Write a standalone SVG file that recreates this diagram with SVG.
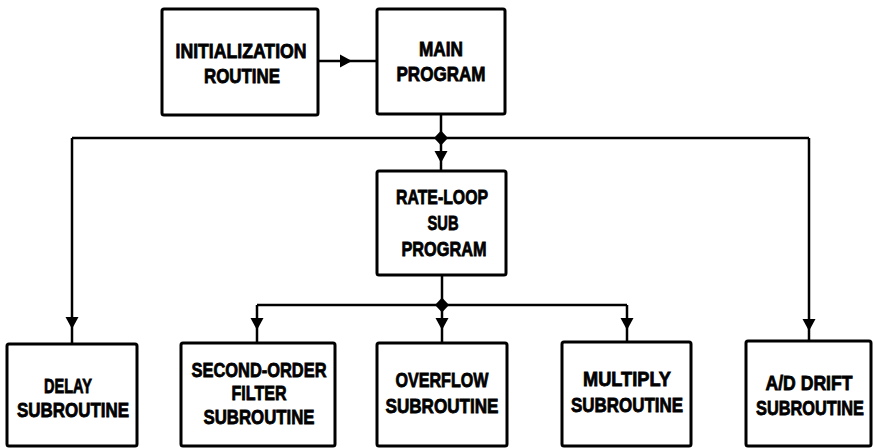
<svg xmlns="http://www.w3.org/2000/svg" xmlns:xlink="http://www.w3.org/1999/xlink" width="873" height="448" viewBox="0 0 873 448">
<style>
.box{fill:#fff;stroke:#000;stroke-width:3;}
.t{font-family:"Liberation Sans",Arial,sans-serif;font-weight:bold;font-size:20.5px;fill:#000;stroke:#000;stroke-width:0.8;text-anchor:middle;}
.ln{fill:none;stroke:#000;stroke-width:2.5;}
.hd{fill:#000;stroke:none;}
</style>
<defs>
<polygon id="ad" points="-6.5,-12 6.5,-12 0,0"/>
<polygon id="ar" points="-12,-6.5 -12,6.5 0,0"/>
<polygon id="dm" points="-7,0 0,-7.5 7,0 0,7.5"/>
</defs>
<rect width="873" height="448" fill="#fff"/>
<g id="connectors">
<path class="ln" d="M318,61 H377"/>
<path class="ln" d="M441,114 V171"/>
<path class="ln" d="M72,138 H809 M72,138 V344 M809,138 V341"/>
<path class="ln" d="M442,275 V343 M257,305 H627 M257,305 V343 M627,305 V342"/>
<use class="hd" href="#ar" xlink:href="#ar" x="352" y="61"/>
<use class="hd" href="#ad" xlink:href="#ad" x="441" y="163"/>
<use class="hd" href="#ad" xlink:href="#ad" x="72" y="329"/>
<use class="hd" href="#ad" xlink:href="#ad" x="809" y="331"/>
<use class="hd" href="#ad" xlink:href="#ad" x="257" y="330"/>
<use class="hd" href="#ad" xlink:href="#ad" x="442" y="330"/>
<use class="hd" href="#ad" xlink:href="#ad" x="627" y="330"/>
<use class="hd" href="#dm" xlink:href="#dm" x="441" y="138"/>
<use class="hd" href="#dm" xlink:href="#dm" x="442" y="305"/>
</g>
<g id="init">
<rect class="box" x="162" y="9" width="156" height="106" rx="2"/>
<text class="t" x="241" y="58" textLength="131" lengthAdjust="spacingAndGlyphs">INITIALIZATION</text>
<text class="t" x="242" y="83" textLength="76" lengthAdjust="spacingAndGlyphs">ROUTINE</text>
</g>
<g id="main">
<rect class="box" x="377" y="9" width="128" height="105" rx="2"/>
<text class="t" x="441" y="56" textLength="44" lengthAdjust="spacingAndGlyphs">MAIN</text>
<text class="t" x="441" y="81" textLength="89" lengthAdjust="spacingAndGlyphs">PROGRAM</text>
</g>
<g id="rate">
<rect class="box" x="377" y="171" width="129" height="104" rx="2"/>
<text class="t" x="442" y="204" textLength="92" lengthAdjust="spacingAndGlyphs">RATE-LOOP</text>
<text class="t" x="443" y="230" textLength="31" lengthAdjust="spacingAndGlyphs">SUB</text>
<text class="t" x="444" y="256" textLength="85" lengthAdjust="spacingAndGlyphs">PROGRAM</text>
</g>
<g id="delay">
<rect class="box" x="7" y="344" width="130" height="102" rx="2"/>
<text class="t" x="68" y="393" textLength="48" lengthAdjust="spacingAndGlyphs">DELAY</text>
<text class="t" x="73" y="417" textLength="112" lengthAdjust="spacingAndGlyphs">SUBROUTINE</text>
</g>
<g id="second">
<rect class="box" x="181" y="343" width="154" height="103" rx="2"/>
<text class="t" x="259" y="377" textLength="135" lengthAdjust="spacingAndGlyphs">SECOND-ORDER</text>
<text class="t" x="259" y="400" textLength="55" lengthAdjust="spacingAndGlyphs">FILTER</text>
<text class="t" x="259" y="424" textLength="111" lengthAdjust="spacingAndGlyphs">SUBROUTINE</text>
</g>
<g id="overflow">
<rect class="box" x="377" y="343" width="130" height="103" rx="2"/>
<text class="t" x="442" y="387" textLength="93" lengthAdjust="spacingAndGlyphs">OVERFLOW</text>
<text class="t" x="442" y="413" textLength="113" lengthAdjust="spacingAndGlyphs">SUBROUTINE</text>
</g>
<g id="multiply">
<rect class="box" x="562" y="342" width="129" height="104" rx="2"/>
<text class="t" x="627" y="386" textLength="88" lengthAdjust="spacingAndGlyphs">MULTIPLY</text>
<text class="t" x="627" y="412" textLength="112" lengthAdjust="spacingAndGlyphs">SUBROUTINE</text>
</g>
<g id="addrift">
<rect class="box" x="746" y="341" width="125" height="105" rx="2"/>
<text class="t" x="809" y="390" textLength="87" lengthAdjust="spacingAndGlyphs">A/D DRIFT</text>
<text class="t" x="810" y="415" textLength="108" lengthAdjust="spacingAndGlyphs">SUBROUTINE</text>
</g>
</svg>
